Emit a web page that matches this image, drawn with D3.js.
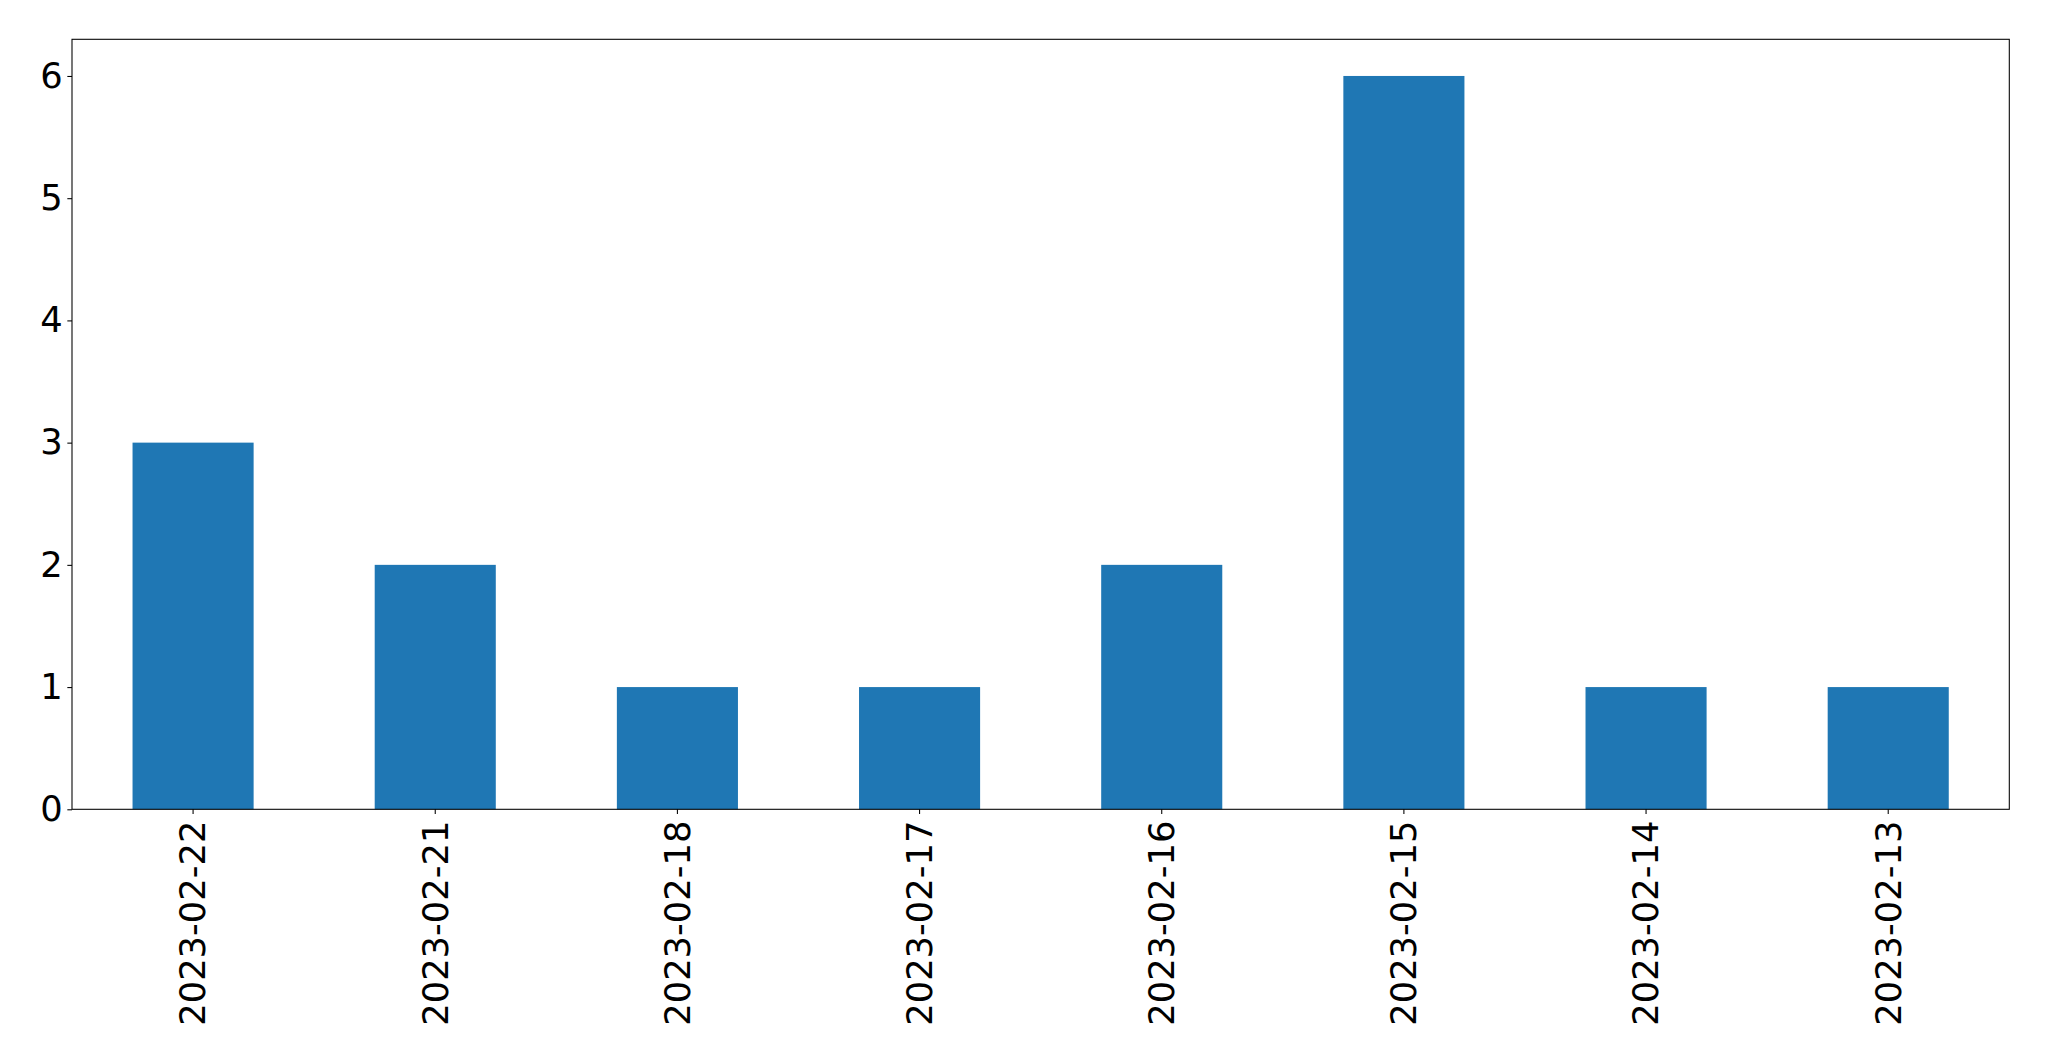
<!DOCTYPE html>
<html><head><meta charset="utf-8">
<script src="https://cdn.jsdelivr.net/npm/d3@7"></script>
<style>body{margin:0;background:#fff}svg{display:block}</style>
</head><body>
<script>
const categories = ["2023-02-22","2023-02-21","2023-02-18","2023-02-17","2023-02-16","2023-02-15","2023-02-14","2023-02-13"];
const values = [3, 2, 1, 1, 2, 6, 1, 1];
const yTicks = [0, 1, 2, 3, 4, 5, 6];

const W = 2049, H = 1061;
const m = {left: 72, right: 2049 - 2009.3, top: 39.3, bottom: 1061 - 809.3};
const svg = d3.select("body").append("svg").attr("width", W).attr("height", H);

const x = d3.scaleBand().domain(categories).range([m.left, W - m.right]).paddingInner(0.5).paddingOuter(0.25);
const y = d3.scaleLinear().domain([0, 6.3]).range([H - m.bottom, m.top]);

svg.append("g").selectAll("rect").data(values).join("rect")
  .attr("x", (d, i) => x(categories[i]))
  .attr("width", x.bandwidth())
  .attr("y", d => y(d))
  .attr("height", d => y(0) - y(d))
  .attr("fill", "#1f77b4");

const font = "DejaVu Sans";
const fs = 35.3;
const tickLen = 4.67, pad = 4.67;

const yAxis = svg.append("g").attr("transform", `translate(${m.left},0)`)
  .call(d3.axisLeft(y).tickValues(yTicks).tickFormat(d3.format("d")).tickSize(tickLen).tickPadding(pad));
const xAxis = svg.append("g").attr("transform", `translate(0,${H - m.bottom})`)
  .call(d3.axisBottom(x).tickSize(tickLen).tickPadding(pad));
[yAxis, xAxis].forEach(g => {
  g.select(".domain").remove();
  g.selectAll("line").attr("stroke", "#000").attr("stroke-width", 1.07);
  g.selectAll("text").attr("font-family", font).attr("font-size", fs).attr("fill", "#000");
});
xAxis.selectAll("text")
  .attr("transform", "rotate(-90)")
  .attr("text-anchor", "end")
  .attr("x", -(tickLen + pad + 2))
  .attr("y", 0)
  .attr("dy", "0.35em");

svg.append("rect")
  .attr("x", m.left).attr("y", m.top)
  .attr("width", W - m.right - m.left).attr("height", H - m.bottom - m.top)
  .attr("fill", "none").attr("stroke", "#000").attr("stroke-width", 1.07);
</script>
</body></html>
